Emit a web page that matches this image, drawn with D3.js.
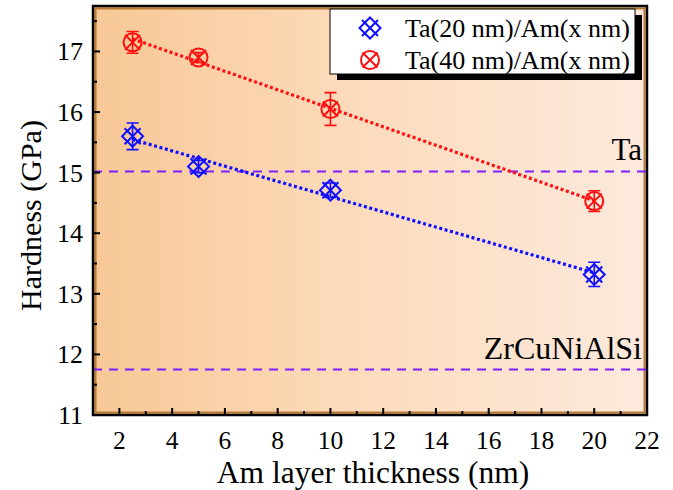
<!DOCTYPE html>
<html>
<head>
<meta charset="utf-8">
<script src="https://cdn.jsdelivr.net/npm/d3@7"></script>
<style>
  body { margin: 0; background: #fff; }
</style>
</head>
<body>
<script>
// data
const thickness = [2.5, 5, 10, 20];
const hardTa20 = [15.6, 15.1, 14.71, 13.32];
const errTa20 = [0.22, 0.1, 0.12, 0.2];
const hardTa40 = [17.15, 16.9, 16.05, 14.53];
const errTa40 = [0.18, 0.08, 0.27, 0.17];
const refTa = 15.02;
const refZr = 11.75;
const xTicks = [2, 4, 6, 8, 10, 12, 14, 16, 18, 20, 22];
const yTicks = [11, 12, 13, 14, 15, 16, 17];

const width = 673, height = 490;
const margin = {top: 6, right: 26, bottom: 75, left: 93};

const svg = d3.select('body').append('svg')
    .attr('width', width)
    .attr('height', height)
    .attr('font-family', '"Liberation Serif", "Times New Roman", serif');

const x = d3.scaleLinear().domain([1, 22]).range([margin.left, width - margin.right]);
const y = d3.scaleLinear().domain([11, 17.75]).range([height - margin.bottom, margin.top]);

// background gradient
const defs = svg.append('defs');
const grad = defs.append('linearGradient').attr('id', 'bg')
    .attr('x1', '0%').attr('x2', '100%').attr('y1', '0%').attr('y2', '0%');
grad.append('stop').attr('offset', '0%').attr('stop-color', '#f8c896');
grad.append('stop').attr('offset', '50%').attr('stop-color', '#fcdcbe');
grad.append('stop').attr('offset', '100%').attr('stop-color', '#fde9dd');

const pw = x(22) - x(1), ph = y(11) - y(17.75);
svg.append('rect')
    .attr('x', x(1)).attr('y', y(17.75))
    .attr('width', pw).attr('height', ph)
    .attr('fill', 'url(#bg)');

// brown inner frame
svg.append('rect')
    .attr('x', x(1) + 2.5).attr('y', y(17.75) + 2.5)
    .attr('width', pw - 5).attr('height', ph - 5)
    .attr('fill', 'none').attr('stroke', '#b87a30').attr('stroke-width', 2);

/* ------- REFERENCE LINES -------*/
const refs = [{v: refTa, name: 'Ta', size: 31}, {v: refZr, name: 'ZrCuNiAlSi', size: 32}];
svg.selectAll('line.ref').data(refs).enter()
    .append('line')
    .attr('class', 'ref')
    .attr('x1', x(1)).attr('x2', x(22))
    .attr('y1', d => y(d.v)).attr('y2', d => y(d.v))
    .attr('stroke', '#7f1fff').attr('stroke-width', 2)
    .attr('stroke-dasharray', '9,7');

svg.selectAll('text.ref').data(refs).enter()
    .append('text')
    .attr('class', 'ref')
    .attr('x', x(22) - 5)
    .attr('y', d => y(d.v) - 11)
    .attr('text-anchor', 'end')
    .attr('font-size', d => d.size)
    .text(d => d.name);

/* ------- FIT LINES -------*/
function fit(xs, ys) {
    const mx = d3.mean(xs), my = d3.mean(ys);
    const sxy = d3.sum(xs, (v, i) => (v - mx) * (ys[i] - my));
    const sxx = d3.sum(xs, v => (v - mx) * (v - mx));
    const b = sxy / sxx;
    return v => my + b * (v - mx);
}

const series = [
    {name: 'Ta(20 nm)/Am(x nm)', vals: hardTa20, errs: errTa20, color: '#1010ff', sym: 'diamond'},
    {name: 'Ta(40 nm)/Am(x nm)', vals: hardTa40, errs: errTa40, color: '#ff1010', sym: 'circle'}
];

series.forEach(s => {
    const f = fit(thickness, s.vals);
    const ends = [d3.min(thickness), d3.max(thickness)];
    svg.append('line')
        .attr('x1', x(ends[0])).attr('y1', y(f(ends[0])))
        .attr('x2', x(ends[1])).attr('y2', y(f(ends[1])))
        .attr('stroke', s.color).attr('stroke-width', 3.2)
        .attr('stroke-dasharray', '3,2.6');
});

function drawSymbol(g, sym, color) {
    if (sym === 'diamond') {
        const r = 10.5;
        g.append('path')
            .attr('d', `M0,${-r}L${r},0L0,${r}L${-r},0Z`)
            .attr('fill', 'none').attr('stroke', color).attr('stroke-width', 2);
        const k = 8;
        g.append('path')
            .attr('d', `M${-k},${-k}L${k},${k}M${k},${-k}L${-k},${k}`)
            .attr('stroke', color).attr('stroke-width', 2);
    } else {
        const r = 9;
        g.append('circle').attr('r', r)
            .attr('fill', 'none').attr('stroke', color).attr('stroke-width', 2);
        const k = 7.5;
        g.append('path')
            .attr('d', `M${-k},${-k}L${k},${k}M${k},${-k}L${-k},${k}`)
            .attr('stroke', color).attr('stroke-width', 2);
    }
}

/* ------- POINTS + ERROR BARS -------*/
series.forEach(s => {
    const pts = svg.append('g').selectAll('g')
        .data(thickness.map((t, i) => ({t, v: s.vals[i], e: s.errs[i]})))
        .enter().append('g')
        .attr('transform', d => `translate(${x(d.t)},${y(d.v)})`);
    pts.append('path')
        .attr('d', d => {
            const top = y(d.v + d.e) - y(d.v), bot = y(d.v - d.e) - y(d.v);
            return `M0,${top}L0,${bot}M-6,${top}L6,${top}M-6,${bot}L6,${bot}`;
        })
        .attr('stroke', s.color).attr('stroke-width', 1.6).attr('fill', 'none');
    pts.each(function() { drawSymbol(d3.select(this), s.sym, s.color); });
});

/* ------- AXES -------*/
const xMinor = d3.range(3, 22, 2);
const yMinor = d3.range(11.5, 17.6, 1);

const bottom = svg.append('g');
bottom.selectAll('line.maj').data(xTicks).enter().append('line')
    .attr('x1', d => x(d)).attr('x2', d => x(d))
    .attr('y1', y(11)).attr('y2', y(11) - 7)
    .attr('stroke', '#000').attr('stroke-width', 2);
bottom.selectAll('line.min').data(xMinor).enter().append('line')
    .attr('x1', d => x(d)).attr('x2', d => x(d))
    .attr('y1', y(11)).attr('y2', y(11) - 4)
    .attr('stroke', '#000').attr('stroke-width', 2);
bottom.selectAll('text').data(xTicks).enter().append('text')
    .attr('x', d => x(d)).attr('y', y(11) + 34)
    .attr('text-anchor', 'middle')
    .attr('font-size', 25.5)
    .text(d => d);

const left = svg.append('g');
left.selectAll('line.maj').data(yTicks).enter().append('line')
    .attr('x1', x(1)).attr('x2', x(1) + 7)
    .attr('y1', d => y(d)).attr('y2', d => y(d))
    .attr('stroke', '#000').attr('stroke-width', 2);
left.selectAll('line.min').data(yMinor).enter().append('line')
    .attr('x1', x(1)).attr('x2', x(1) + 4)
    .attr('y1', d => y(d)).attr('y2', d => y(d))
    .attr('stroke', '#000').attr('stroke-width', 2);
left.selectAll('text').data(yTicks).enter().append('text')
    .attr('x', x(1) - 10).attr('y', d => y(d) + 9)
    .attr('text-anchor', 'end')
    .attr('font-size', 26)
    .text(d => d);

// frame
svg.append('rect')
    .attr('x', x(1)).attr('y', y(17.75))
    .attr('width', pw).attr('height', ph)
    .attr('fill', 'none').attr('stroke', '#000').attr('stroke-width', 2.5);

svg.append('text')
    .attr('x', (x(1) + x(22)) / 2 + 3).attr('y', 483)
    .attr('text-anchor', 'middle')
    .attr('font-size', 31.5)
    .text('Am layer thickness (nm)');

svg.append('text')
    .attr('transform', `translate(41, ${(y(11) + y(17.75)) / 2 + 5}) rotate(-90)`)
    .attr('text-anchor', 'middle')
    .attr('font-size', 30)
    .text('Hardness (GPa)');

/* ------- LEGEND -------*/
const lg = svg.append('g').attr('transform', 'translate(330, 9)');
lg.append('rect').attr('x', 7).attr('y', 6).attr('width', 305).attr('height', 65).attr('fill', '#000');
lg.append('rect').attr('width', 305).attr('height', 65)
    .attr('fill', '#fff').attr('stroke', '#000').attr('stroke-width', 1);
series.forEach((s, i) => {
    const row = lg.append('g').attr('transform', `translate(40, ${19 + i * 32})`);
    drawSymbol(row.append('g'), s.sym, s.color);
    row.append('text')
        .attr('x', 35).attr('y', 9)
        .attr('font-size', 26)
        .text(s.name);
});
</script>
</body>
</html>
